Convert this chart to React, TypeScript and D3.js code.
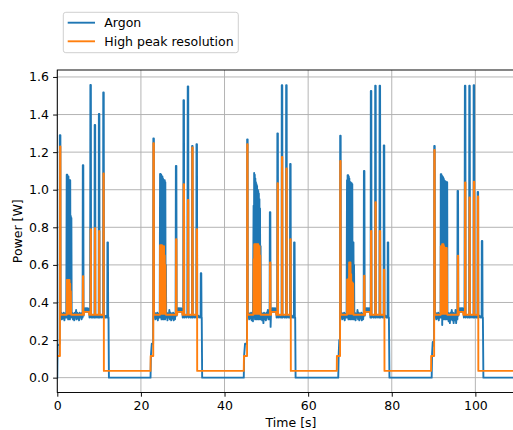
import React, { useEffect, useRef } from "react";
import * as d3 from "d3";

// ---------- data ----------
const xTicks = [0, 20, 40, 60, 80, 100];
const yTicks = [0.0, 0.2, 0.4, 0.6, 0.8, 1.0, 1.2, 1.4, 1.6];
const seriesNames = ["Argon", "High peak resolution"];
const seriesColors = ["#1f77b4", "#ff7f0e"];

const argonCycle1: [number, number][] = [
  [0.0, 0.0], [0.08, 0.17], [0.55, 0.18], [0.6, 1.29], [0.74, 1.29], [0.8, 0.32],
  [0.95, 0.345], [1.1, 0.31], [1.25, 0.34], [1.4, 0.315], [1.55, 0.345], [1.7, 0.305], [1.85, 0.34], [2.0, 0.32], [2.15, 0.345],
  [2.25, 1.08], [2.32, 0.32], [2.39, 1.08], [2.46, 0.33], [2.53, 1.07], [2.6, 0.31], [2.67, 1.07], [2.74, 0.33], [2.81, 1.05], [2.88, 0.32], [2.95, 1.05], [3.02, 0.31], [3.09, 1.05], [3.16, 0.33], [3.23, 0.86], [3.3, 0.32], [3.37, 0.85], [3.44, 0.33],
  [3.6, 0.345], [3.75, 0.31], [3.9, 0.34], [4.05, 0.305], [4.2, 0.345], [4.35, 0.32], [4.5, 0.36], [4.6, 0.31], [4.75, 0.345], [4.9, 0.315], [5.05, 0.34], [5.2, 0.305], [5.35, 0.345], [5.5, 0.32], [5.65, 0.34], [5.8, 0.31], [5.95, 0.345], [6.05, 0.32],
  [6.1, 1.13], [6.22, 1.13], [6.28, 0.33],
  [6.4, 0.37], [6.55, 0.35], [6.7, 0.37], [6.85, 0.35], [7.0, 0.37], [7.15, 0.35], [7.3, 0.37], [7.45, 0.35], [7.6, 0.365], [7.7, 0.32], [7.85, 0.33],
  [7.91, 1.557], [8.03, 1.557], [8.09, 0.32], [8.3, 0.33], [8.5, 0.32], [8.7, 0.33], [8.9, 0.32],
  [8.94, 1.345], [9.06, 1.345], [9.12, 0.32], [9.3, 0.33], [9.5, 0.32], [9.7, 0.33], [9.9, 0.32],
  [9.94, 1.403], [10.06, 1.403], [10.12, 0.32], [10.3, 0.33], [10.5, 0.32], [10.7, 0.33], [10.95, 0.32],
  [10.99, 1.517], [11.11, 1.517], [11.17, 0.32], [11.35, 0.33], [11.55, 0.32], [11.75, 0.33], [11.95, 0.32],
  [11.99, 0.72], [12.11, 0.72], [12.17, 0.32], [12.25, 0.32], [12.35, 0.0], [22.3, 0.0],
];
const argonCycle2: [number, number][] = [
  [22.4, 0.12], [22.6, 0.18], [22.92, 0.18], [22.97, 1.273], [23.1, 1.273], [23.15, 0.32],
  [23.3, 0.345], [23.45, 0.31], [23.6, 0.34], [23.75, 0.315], [23.9, 0.345], [24.05, 0.305], [24.2, 0.34], [24.35, 0.32], [24.5, 0.345],
  [24.58, 1.084], [24.65, 0.32], [24.72, 1.084], [24.79, 0.33], [24.86, 1.08], [24.93, 0.31], [25.0, 1.07], [25.07, 0.33], [25.14, 1.07], [25.21, 0.32], [25.28, 1.06], [25.35, 0.31], [25.42, 1.05], [25.49, 0.33], [25.56, 1.05], [25.63, 0.32], [25.7, 1.05], [25.77, 0.31], [25.84, 1.04], [25.91, 0.33], [25.98, 0.6], [26.05, 0.32],
  [26.2, 0.345], [26.35, 0.305], [26.5, 0.34], [26.65, 0.32], [26.8, 0.36], [26.95, 0.31], [27.1, 0.345], [27.25, 0.305], [27.4, 0.34], [27.55, 0.315], [27.7, 0.345], [27.85, 0.305], [28.0, 0.34], [28.15, 0.31], [28.3, 0.345],
  [28.36, 1.127], [28.48, 1.127], [28.55, 0.33],
  [28.7, 0.37], [28.85, 0.35], [29.0, 0.37], [29.15, 0.35], [29.3, 0.37], [29.45, 0.35], [29.6, 0.37], [29.75, 0.35], [29.9, 0.365], [30.0, 0.32], [30.12, 0.33],
  [30.18, 1.476], [30.3, 1.476], [30.36, 0.32], [30.6, 0.33], [30.85, 0.32], [31.1, 0.33],
  [31.2, 1.55], [31.32, 1.55], [31.38, 0.32], [31.6, 0.33], [31.85, 0.32], [32.1, 0.33], [32.2, 0.32],
  [32.24, 1.233], [32.36, 1.233], [32.42, 0.32], [32.65, 0.33], [32.9, 0.32], [33.15, 0.33], [33.25, 0.32],
  [33.29, 1.242], [33.41, 1.242], [33.47, 0.32], [33.7, 0.33], [33.95, 0.32], [34.2, 0.33], [34.28, 0.32],
  [34.32, 0.556], [34.44, 0.556], [34.5, 0.32], [34.55, 0.32], [34.65, 0.0], [44.6, 0.0],
];
const argonCycle3: [number, number][] = [
  [44.7, 0.12], [44.9, 0.18], [45.37, 0.18], [45.41, 1.268], [45.53, 1.268], [45.58, 0.32],
  [45.75, 0.345], [45.9, 0.31], [46.05, 0.34], [46.2, 0.315], [46.35, 0.345], [46.5, 0.305], [46.65, 0.34], [46.8, 0.3],
  [46.95, 0.915], [47.02, 0.32], [47.09, 1.089], [47.16, 0.33], [47.23, 1.08], [47.3, 0.31], [47.37, 1.06], [47.44, 0.33], [47.51, 1.04], [47.58, 0.32], [47.65, 1.03], [47.72, 0.31], [47.79, 1.02], [47.86, 0.33], [47.93, 1.0], [48.0, 0.32], [48.07, 0.994], [48.14, 0.31], [48.21, 0.98], [48.28, 0.33], [48.35, 0.95], [48.42, 0.32], [48.49, 0.9], [48.56, 0.31], [48.63, 0.7], [48.7, 0.33],
  [48.85, 0.345], [49.0, 0.305], [49.15, 0.34], [49.3, 0.29], [49.45, 0.345], [49.6, 0.31], [49.75, 0.34], [49.9, 0.305], [50.05, 0.345], [50.2, 0.32], [50.35, 0.36], [50.5, 0.31], [50.65, 0.345], [50.78, 0.31],
  [50.84, 0.88], [50.96, 0.88], [51.02, 0.27], [51.1, 0.33],
  [51.2, 0.37], [51.35, 0.35], [51.5, 0.37], [51.65, 0.35], [51.8, 0.37], [51.95, 0.35], [52.1, 0.37], [52.25, 0.35], [52.35, 0.365], [52.45, 0.32], [52.58, 0.33],
  [52.64, 1.3], [52.76, 1.3], [52.82, 0.32], [53.05, 0.33], [53.3, 0.32], [53.55, 0.33], [53.65, 0.32],
  [53.69, 1.556], [53.81, 1.556], [53.87, 0.32], [54.1, 0.33], [54.35, 0.32], [54.6, 0.33], [54.7, 0.32],
  [54.74, 1.556], [54.86, 1.556], [54.92, 0.32], [55.15, 0.33], [55.4, 0.32], [55.6, 0.33], [55.65, 0.32],
  [55.69, 1.137], [55.81, 1.137], [55.87, 0.32], [56.1, 0.33], [56.35, 0.32], [56.55, 0.33], [56.6, 0.32],
  [56.64, 0.72], [56.76, 0.72], [56.82, 0.32], [56.9, 0.32], [57.0, 0.0], [67.2, 0.0],
];
const argonCycle4: [number, number][] = [
  [67.3, 0.12], [67.45, 0.2], [67.62, 0.18], [67.66, 1.287], [67.78, 1.287], [67.84, 0.32],
  [68.0, 0.345], [68.15, 0.31], [68.3, 0.34], [68.45, 0.315], [68.6, 0.345], [68.75, 0.305], [68.9, 0.34], [69.05, 0.32], [69.2, 0.345],
  [69.3, 1.05], [69.37, 0.32], [69.44, 1.077], [69.51, 0.33], [69.58, 1.077], [69.65, 0.31], [69.72, 1.07], [69.79, 0.33], [69.86, 1.06], [69.93, 0.32], [70.0, 1.04], [70.07, 0.31], [70.14, 1.04], [70.21, 0.33], [70.28, 1.035], [70.35, 0.32], [70.42, 1.035], [70.49, 0.31], [70.56, 1.03], [70.63, 0.33], [70.7, 0.72], [70.77, 0.32], [70.84, 0.72], [70.91, 0.31], [70.98, 0.6], [71.05, 0.33],
  [71.2, 0.345], [71.35, 0.305], [71.5, 0.34], [71.65, 0.32], [71.8, 0.36], [71.95, 0.31], [72.1, 0.345], [72.25, 0.305], [72.4, 0.34], [72.55, 0.315], [72.7, 0.345], [72.85, 0.305], [73.0, 0.34], [73.15, 0.31], [73.28, 0.345],
  [73.34, 1.1], [73.46, 1.1], [73.52, 0.33],
  [73.65, 0.37], [73.8, 0.35], [73.95, 0.37], [74.1, 0.35], [74.25, 0.37], [74.4, 0.35], [74.55, 0.37], [74.7, 0.35], [74.8, 0.365], [74.88, 0.32], [74.95, 0.33],
  [74.99, 1.525], [75.11, 1.525], [75.17, 0.32], [75.4, 0.33], [75.65, 0.32], [75.9, 0.33], [76.0, 0.32],
  [76.04, 1.553], [76.16, 1.553], [76.22, 0.32], [76.45, 0.33], [76.7, 0.32], [76.95, 0.33], [77.05, 0.32],
  [77.09, 1.553], [77.21, 1.553], [77.27, 0.32], [77.5, 0.33], [77.75, 0.32], [77.95, 0.33], [78.05, 0.32],
  [78.09, 1.236], [78.21, 1.236], [78.27, 0.32], [78.5, 0.33], [78.75, 0.32], [78.95, 0.33], [79.0, 0.32],
  [79.04, 0.72], [79.16, 0.72], [79.22, 0.32], [79.32, 0.32], [79.45, 0.0], [89.55, 0.0],
];
const argonCycle5: [number, number][] = [
  [89.65, 0.13], [89.8, 0.19], [90.12, 0.17], [90.16, 1.233], [90.28, 1.233], [90.34, 0.32],
  [90.5, 0.345], [90.65, 0.31], [90.8, 0.34], [90.95, 0.315], [91.1, 0.345], [91.25, 0.305], [91.4, 0.34], [91.55, 0.32], [91.68, 0.345],
  [91.72, 1.083], [91.79, 0.32], [91.86, 1.083], [91.93, 0.33], [92.0, 1.075], [92.07, 0.28], [92.14, 1.07], [92.21, 0.33], [92.28, 1.066], [92.35, 0.32], [92.42, 1.06], [92.49, 0.31], [92.56, 1.05], [92.63, 0.33], [92.7, 1.047], [92.77, 0.32], [92.84, 1.045], [92.91, 0.31], [92.98, 1.04], [93.05, 0.33], [93.12, 1.04], [93.19, 0.32], [93.26, 1.04], [93.33, 0.31],
  [93.45, 0.345], [93.6, 0.3], [93.75, 0.34], [93.9, 0.29], [94.05, 0.345], [94.2, 0.31], [94.35, 0.36], [94.5, 0.305], [94.65, 0.345], [94.8, 0.29], [94.95, 0.34], [95.1, 0.305], [95.25, 0.36], [95.4, 0.29], [95.55, 0.345], [95.7, 0.31],
  [95.74, 0.994], [95.86, 0.994], [95.92, 0.33],
  [96.05, 0.37], [96.2, 0.35], [96.35, 0.37], [96.5, 0.35], [96.65, 0.37], [96.8, 0.35], [96.95, 0.37], [97.1, 0.36], [97.25, 0.32], [97.4, 0.33],
  [97.49, 1.553], [97.61, 1.553], [97.67, 0.32], [97.9, 0.33], [98.15, 0.32], [98.4, 0.33], [98.5, 0.32],
  [98.54, 1.553], [98.66, 1.553], [98.72, 0.32], [98.95, 0.33], [99.2, 0.32], [99.45, 0.33], [99.55, 0.32],
  [99.59, 1.556], [99.71, 1.556], [99.77, 0.32], [100.0, 0.33], [100.25, 0.32], [100.45, 0.33], [100.5, 0.32],
  [100.54, 0.988], [100.66, 0.988], [100.72, 0.32], [100.95, 0.33], [101.2, 0.32], [101.45, 0.33], [101.5, 0.32],
  [101.54, 0.727], [101.66, 0.727], [101.72, 0.32], [101.8, 0.32], [101.92, 0.0], [111.8, 0.0],
];

const highPeakCycle1: [number, number][] = [
  [0.0, 0.115], [0.63, 0.115], [0.65, 1.23], [0.75, 1.23], [0.78, 0.335], [2.25, 0.335],
  [2.28, 0.52], [2.36, 0.34], [2.44, 0.52], [2.52, 0.34], [2.6, 0.52], [2.68, 0.34], [2.76, 0.52], [2.84, 0.34], [2.92, 0.52], [3.0, 0.34], [3.08, 0.5], [3.16, 0.34], [3.24, 0.46], [3.32, 0.335],
  [6.1, 0.335], [6.13, 0.54], [6.21, 0.54], [6.25, 0.335], [6.38, 0.335], [6.4, 0.35], [7.6, 0.35], [7.62, 0.335],
  [7.94, 0.335], [7.96, 0.79], [8.04, 0.79], [8.06, 0.335],
  [8.97, 0.335], [8.99, 0.795], [9.07, 0.795], [9.09, 0.335],
  [9.97, 0.335], [9.99, 0.78], [10.07, 0.78], [10.09, 0.335],
  [11.02, 0.335], [11.04, 1.087], [11.12, 1.087], [11.14, 0.036], [22.3, 0.036],
];
const highPeakCycle2: [number, number][] = [
  [22.33, 0.115], [22.95, 0.115], [22.98, 1.247], [23.1, 1.247], [23.13, 0.335], [24.55, 0.335],
  [24.58, 0.705], [24.66, 0.34], [24.74, 0.705], [24.82, 0.34], [24.9, 0.705], [24.98, 0.34], [25.06, 0.705], [25.14, 0.34], [25.22, 0.7], [25.3, 0.34], [25.38, 0.7], [25.46, 0.34], [25.54, 0.7], [25.62, 0.34], [25.7, 0.65], [25.78, 0.34], [25.86, 0.6], [25.94, 0.34], [26.0, 0.335],
  [28.37, 0.335], [28.4, 0.737], [28.5, 0.737], [28.53, 0.335], [28.68, 0.335], [28.7, 0.35], [29.9, 0.35], [29.92, 0.335],
  [30.19, 0.335], [30.22, 1.03], [30.32, 1.03], [30.35, 0.335],
  [31.21, 0.335], [31.24, 0.946], [31.34, 0.946], [31.37, 0.335],
  [32.25, 0.335], [32.28, 1.225], [32.38, 1.225], [32.41, 0.335],
  [33.3, 0.335], [33.33, 0.79], [33.43, 0.79], [33.46, 0.036], [44.6, 0.036],
];
const highPeakCycle3: [number, number][] = [
  [44.65, 0.115], [45.39, 0.115], [45.42, 1.242], [45.52, 1.242], [45.55, 0.335], [46.9, 0.335],
  [46.95, 0.63], [47.03, 0.34], [47.11, 0.71], [47.19, 0.34], [47.27, 0.71], [47.35, 0.34], [47.43, 0.71], [47.51, 0.34], [47.59, 0.71], [47.67, 0.34], [47.75, 0.71], [47.83, 0.34], [47.91, 0.71], [47.99, 0.34], [48.07, 0.71], [48.15, 0.34], [48.23, 0.7], [48.31, 0.34], [48.39, 0.7], [48.47, 0.34], [48.55, 0.65], [48.63, 0.335],
  [50.85, 0.335], [50.88, 0.613], [50.98, 0.613], [51.01, 0.335], [51.13, 0.335], [51.15, 0.35], [52.35, 0.35], [52.37, 0.335],
  [52.65, 0.335], [52.68, 1.035], [52.78, 1.035], [52.81, 0.335],
  [53.7, 0.335], [53.73, 1.174], [53.83, 1.174], [53.86, 0.335],
  [54.75, 0.335], [54.78, 1.113], [54.88, 1.113], [54.91, 0.335],
  [55.7, 0.335], [55.73, 0.737], [55.83, 0.737], [55.86, 0.036], [66.85, 0.036],
];
const highPeakCycle4: [number, number][] = [
  [66.88, 0.115], [67.64, 0.115], [67.67, 1.153], [67.77, 1.153], [67.8, 0.335], [69.3, 0.335],
  [69.33, 0.523], [69.41, 0.34], [69.49, 0.523], [69.57, 0.34], [69.65, 0.523], [69.73, 0.34], [69.81, 0.613], [69.89, 0.34], [69.97, 0.613], [70.05, 0.34], [70.13, 0.613], [70.21, 0.34], [70.29, 0.55], [70.37, 0.34], [70.45, 0.507], [70.53, 0.34], [70.61, 0.507], [70.69, 0.34], [70.77, 0.5], [70.85, 0.335],
  [73.35, 0.335], [73.38, 0.542], [73.48, 0.542], [73.51, 0.335], [73.63, 0.335], [73.65, 0.35], [74.8, 0.35], [74.82, 0.335],
  [75.0, 0.335], [75.03, 0.78], [75.13, 0.78], [75.16, 0.335],
  [76.05, 0.335], [76.08, 0.933], [76.18, 0.933], [76.21, 0.335],
  [77.1, 0.335], [77.13, 0.78], [77.23, 0.78], [77.26, 0.335],
  [78.1, 0.335], [78.13, 0.574], [78.23, 0.574], [78.26, 0.036], [89.4, 0.036],
];
const highPeakCycle5: [number, number][] = [
  [89.43, 0.115], [90.14, 0.115], [90.17, 1.212], [90.27, 1.212], [90.3, 0.335], [91.7, 0.335],
  [91.73, 0.7], [91.81, 0.34], [91.89, 0.7], [91.97, 0.34], [92.05, 0.71], [92.13, 0.34], [92.21, 0.71], [92.29, 0.34], [92.37, 0.71], [92.45, 0.34], [92.53, 0.7], [92.61, 0.34], [92.69, 0.69], [92.77, 0.34], [92.85, 0.69], [92.93, 0.34], [93.01, 0.69], [93.09, 0.34], [93.17, 0.69], [93.25, 0.34], [93.3, 0.335],
  [95.75, 0.335], [95.78, 0.649], [95.88, 0.649], [95.91, 0.335], [96.03, 0.335], [96.05, 0.35], [97.1, 0.35], [97.12, 0.335],
  [97.5, 0.335], [97.53, 1.039], [97.63, 1.039], [97.66, 0.335],
  [98.55, 0.335], [98.58, 0.959], [98.68, 0.959], [98.71, 0.335],
  [99.6, 0.335], [99.63, 1.042], [99.73, 1.042], [99.76, 0.335],
  [100.55, 0.335], [100.58, 0.964], [100.68, 0.964], [100.71, 0.036], [111.8, 0.036],
];

const argon = [...argonCycle1, ...argonCycle2, ...argonCycle3, ...argonCycle4, ...argonCycle5];
const highPeak = [...highPeakCycle1, ...highPeakCycle2, ...highPeakCycle3, ...highPeakCycle4, ...highPeakCycle5];

// ---------- layout ----------
const W = 513;
const H = 430;
const M = { left: 57.3, right: 524.7, top: 70, bottom: 392.5 };
const FONT = "'DejaVu Sans', sans-serif";
const FS = 12.5;

export default function App() {
  const ref = useRef<SVGSVGElement | null>(null);

  useEffect(() => {
    document.body.style.margin = "0";
    const svg = d3.select(ref.current);
    svg.selectAll("*").remove();

    const x = d3.scaleLinear().domain([0, 111.8]).range([M.left, M.right]);
    const y = d3.scaleLinear().domain([-0.079, 1.637]).range([M.bottom, M.top]);

    svg.append("rect").attr("width", W).attr("height", H).attr("fill", "white");

    svg.append("defs").append("clipPath").attr("id", "clip")
      .append("rect").attr("x", M.left).attr("y", M.top)
      .attr("width", M.right - M.left).attr("height", M.bottom - M.top);

    // grid
    const grid = svg.append("g");
    xTicks.forEach((t) => {
      grid.append("line").attr("x1", x(t)).attr("x2", x(t)).attr("y1", M.top).attr("y2", M.bottom)
        .attr("stroke", "#b0b0b0").attr("stroke-width", 0.95);
    });
    yTicks.forEach((t) => {
      grid.append("line").attr("x1", M.left).attr("x2", M.right).attr("y1", y(t)).attr("y2", y(t))
        .attr("stroke", "#b0b0b0").attr("stroke-width", 0.95);
    });

    // lines
    const line = d3.line<[number, number]>().x((d) => x(d[0])).y((d) => y(d[1]));
    const plot = svg.append("g").attr("clip-path", "url(#clip)");
    [argon, highPeak].forEach((data, i) => {
      plot.append("path").attr("d", line(data) as string).attr("fill", "none")
        .attr("stroke", seriesColors[i]).attr("stroke-width", 1.9)
        .attr("stroke-linejoin", "round").attr("stroke-linecap", "square");
    });

    // spines
    const sp = svg.append("g").attr("stroke", "black").attr("stroke-width", 0.95).attr("fill", "none");
    sp.append("rect").attr("x", M.left).attr("y", M.top).attr("width", M.right - M.left).attr("height", M.bottom - M.top);

    // axes ticks
    const xAxis = d3.axisBottom(x).tickValues(xTicks).tickFormat(d3.format("d")).tickSize(4.2).tickPadding(4.2);
    const gx = svg.append("g").attr("transform", `translate(0,${M.bottom})`).call(xAxis);
    const yAxis = d3.axisLeft(y).tickValues(yTicks).tickFormat(d3.format(".1f")).tickSize(4.2).tickPadding(4.2);
    const gy = svg.append("g").attr("transform", `translate(${M.left},0)`).call(yAxis);
    [gx, gy].forEach((g) => {
      g.select(".domain").remove();
      g.selectAll("line").attr("stroke", "black").attr("stroke-width", 0.95);
      g.selectAll("text").attr("font-family", FONT).attr("font-size", FS).attr("fill", "black");
    });

    // labels
    svg.append("text").attr("x", (M.left + M.right) / 2).attr("y", 427)
      .attr("text-anchor", "middle").attr("font-family", FONT).attr("font-size", FS).text("Time [s]");
    svg.append("text").attr("transform", `translate(17,${(M.top + M.bottom) / 2}) rotate(-90)`)
      .attr("text-anchor", "middle").attr("dominant-baseline", "central")
      .attr("font-family", FONT).attr("font-size", FS).text("Power [W]");

    // legend
    const lg = svg.append("g");
    lg.append("rect").attr("x", 63.3).attr("y", 12.3).attr("width", 175).attr("height", 40.4)
      .attr("rx", 2.5).attr("fill", "white").attr("fill-opacity", 0.8)
      .attr("stroke", "#cccccc").attr("stroke-width", 0.95);
    seriesNames.forEach((name, i) => {
      const yy = 22.7 + i * 18.6;
      lg.append("line").attr("x1", 67.7).attr("x2", 95).attr("y1", yy).attr("y2", yy)
        .attr("stroke", seriesColors[i]).attr("stroke-width", 1.9);
      lg.append("text").attr("x", 104.3).attr("y", yy).attr("dominant-baseline", "central")
        .attr("font-family", FONT).attr("font-size", FS).text(name);
    });
  }, []);

  return (
    <svg ref={ref} width={W} height={H} style={{ position: "absolute", left: 0, top: 0, display: "block" }} />
  );
}
